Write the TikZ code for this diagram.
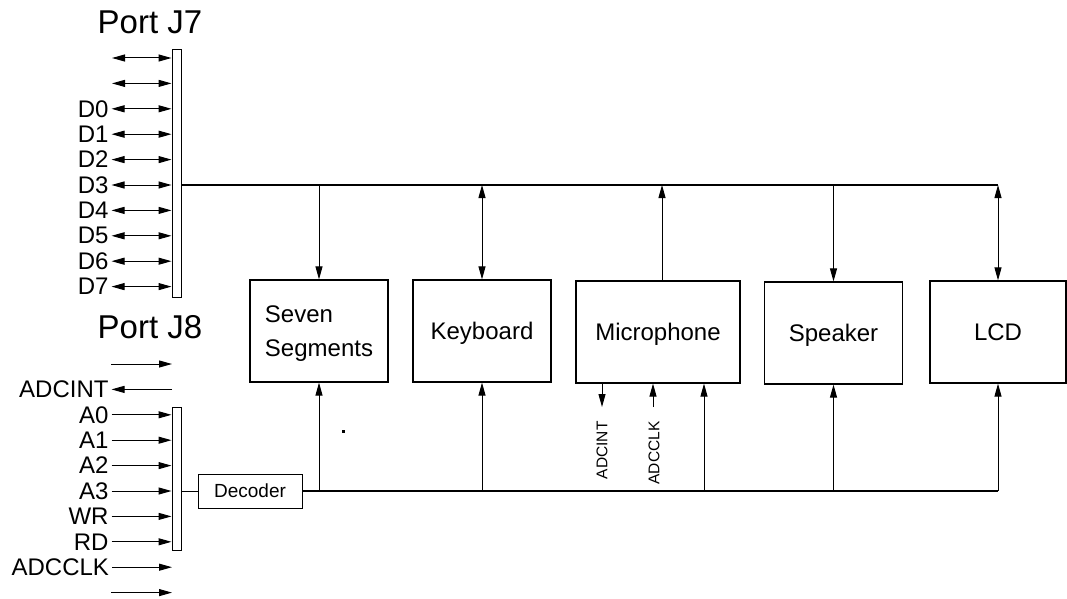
\documentclass[tikz,border=0pt]{standalone}
\usepackage{fontspec}
\setmainfont{Liberation Sans}
\usetikzlibrary{arrows.meta}
\begin{document}
\begin{tikzpicture}[x=1pt,y=-1pt,line width=1pt,
  >={Triangle[length=13pt,width=7pt]},
  box/.style={draw,line width=1.2pt,minimum width=138pt,minimum height=102pt,inner sep=0pt,text depth=0pt,font=\fontsize{24}{34}\selectfont},
  bar/.style={draw,line width=1pt,minimum width=9pt,inner sep=0pt},
  lbl/.style={anchor=east,inner sep=2.5pt,font=\fontsize{24}{28}\selectfont},
  port/.style={font=\fontsize{33}{38}\selectfont,inner sep=0pt},
  rot/.style={rotate=90,anchor=east,inner sep=0pt,font=\fontsize{15.5}{18}\selectfont},
  bus/.style={line width=1.3pt},
  decbox/.style={draw,minimum width=104pt,minimum height=34pt,inner sep=0pt,font=\fontsize{19}{22}\selectfont}]
\useasboundingbox (0,0) rectangle (1067,599);

% ports
\node[port] (pj7) at (150,22) {Port J7};
\node[port] (pj8) at (150,327) {Port J8};
\node[bar,minimum height=247pt] (j7) at (176.5,173.5) {};
\node[bar,minimum height=143pt] (j8) at (176.5,478.5) {};

% J7 rows
\coordinate (r1) at (112,58);
\coordinate (r2) at (112,83.4);
\draw[<->] (r1) -- (r1 -| j7.west);
\draw[<->] (r2) -- (r2 -| j7.west);
\foreach \n/\y in {0/108.8,1/134.2,2/159.6,3/185,4/210.4,5/235.8,6/261.2,7/286.6}{
  \node[lbl] (d\n) at (111.5,\y) {D\n};
  \draw[<->] (d\n.east) -- (d\n.east -| j7.west);
}

% J8 rows
\coordinate (s1) at (111,364);
\coordinate (s1e) at (172,364);
\draw[->] (s1) -- (s1e);
\node[lbl] (adcint) at (111.5,389.4) {ADCINT};
\coordinate (s2e) at (172,389.4);
\draw[->] (s2e) -- (adcint.east);
\foreach \n/\t/\y in {a0/A0/414.8,a1/A1/440.2,a2/A2/465.6,a3/A3/491,wr/WR/516.4,rd/RD/541.8}{
  \node[lbl] (\n) at (111.5,\y) {\t};
  \draw[->] (\n.east) -- (\n.east -| j8.west);
}
\node[lbl] (adcclk) at (112,567.2) {ADCCLK};
\coordinate (s9e) at (172,567.2);
\draw[->] (adcclk.east) -- (s9e);
\coordinate (s10) at (111,592.6);
\coordinate (s10e) at (172,592.6);
\draw[->] (s10) -- (s10e);

% boxes
\node[box,align=left] (seg) at (319,331) {Seven\\Segments};
\node[box] (key) at (482,331) {Keyboard};
\node[box,minimum width=164pt] (mic) at (658,332) {Microphone};
\node[box] (spk) at (833.5,333) {Speaker};
\node[box,minimum width=136pt] (lcd) at (998,332) {LCD};

% top bus
\coordinate (busR) at (998,185);
\draw[bus] (j7.east |- busR) -- (busR);
\draw[->] (seg.north |- busR) -- (seg.north);
\draw[<->] (key.north |- busR) -- (key.north);
\draw[->] ([xshift=4pt]mic.north) -- ([xshift=4pt]mic.north |- busR);
\draw[->] (spk.north |- busR) -- (spk.north);
\draw[<->] (busR) -- (lcd.north);

% decoder and bottom bus
\node[decbox] (dec) at (250,491) {Decoder};
\draw (j8.east |- dec.west) -- (dec.west);
\coordinate (bbR) at (998,491);
\draw[bus] (dec.east) -- (bbR);
\draw[->] (seg.south |- bbR) -- (seg.south);
\draw[->] (key.south |- bbR) -- (key.south);
\coordinate (micin) at (704,491);
\draw[->] (micin) -- (micin |- mic.south);
\draw[->] (spk.south |- bbR) -- (spk.south);
\draw[->] (bbR) -- (lcd.south);

% microphone signals
\coordinate (mint) at (602,407);
\draw[->] (mint |- mic.south) -- (mint);
\node[rot] (lint) at (602,421) {ADCINT};
\coordinate (mclk) at (653,407);
\draw[->] (mclk) -- (mclk |- mic.south);
\node[rot] (lclk) at (654,421) {ADCCLK};

% stray mark
\fill (342,430) rectangle (345,432.5);
\end{tikzpicture}
\end{document}
